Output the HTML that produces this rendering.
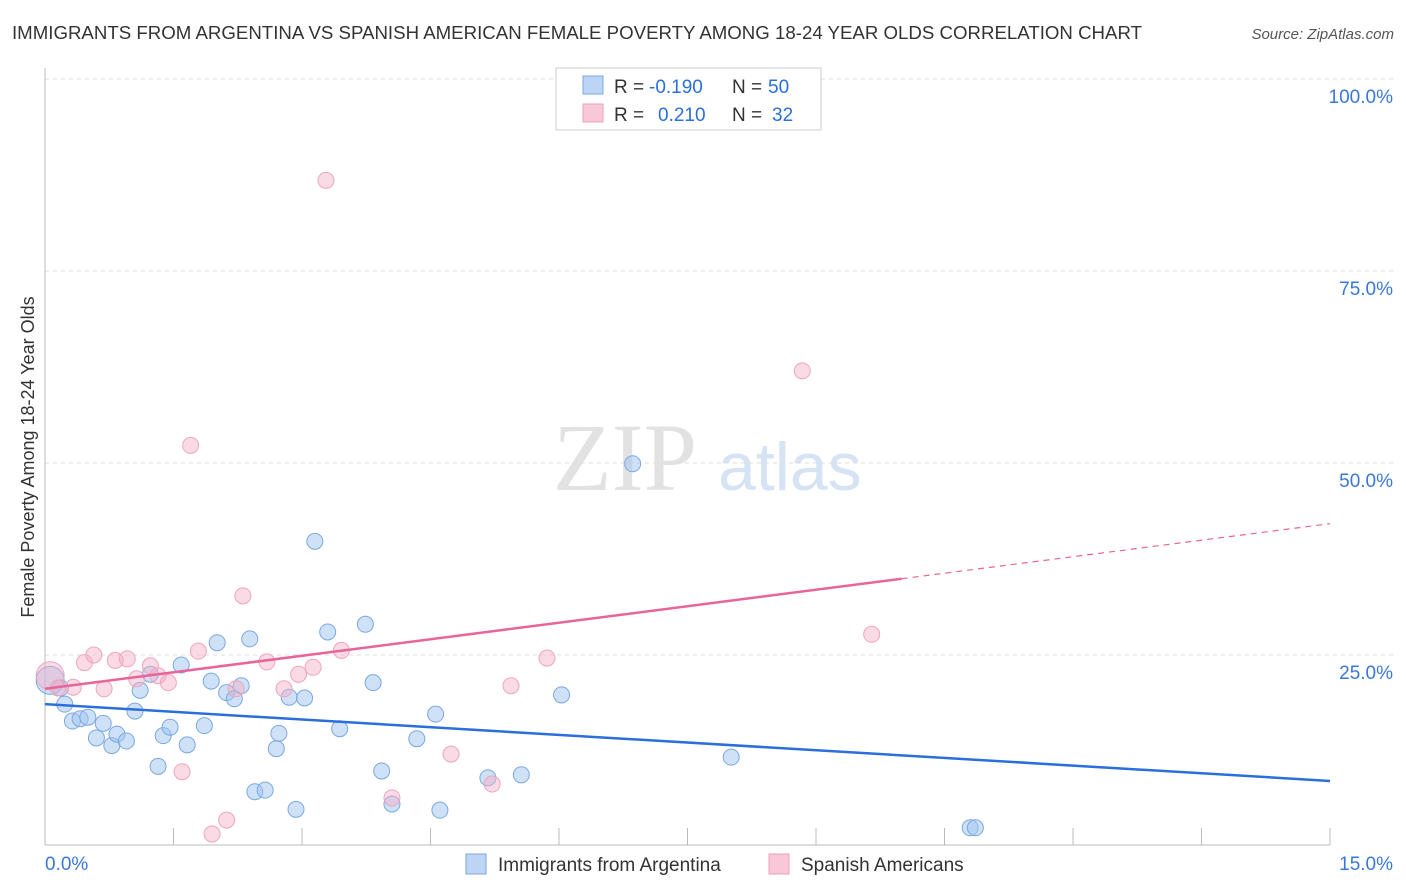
<!DOCTYPE html>
<html><head><meta charset="utf-8"><style>
body{margin:0;background:#fff;font-family:"Liberation Sans",sans-serif;}
#wrap{position:relative;width:1406px;height:892px;overflow:hidden;}
</style></head><body>
<div id="wrap">
<svg id="svg" width="1406" height="892">
<text x="12" y="39" font-size="18" fill="#333" textLength="1130" lengthAdjust="spacingAndGlyphs">IMMIGRANTS FROM ARGENTINA VS SPANISH AMERICAN FEMALE POVERTY AMONG 18-24 YEAR OLDS CORRELATION CHART</text>
<text x="1394" y="39" font-size="15" fill="#555" font-style="italic" text-anchor="end">Source: ZipAtlas.com</text>
<text x="0" y="0" transform="translate(34,457) rotate(-90)" font-size="18" fill="#333" text-anchor="middle">Female Poverty Among 18-24 Year Olds</text>
<text x="553" y="490" font-size="96" fill="#e2e2e2" font-family="Liberation Serif,serif">ZIP</text>
<text x="718" y="490" font-size="68" fill="#d6e3f5">atlas</text>
<g id="grid"></g><g id="marks"></g>
<g>
<rect x="556" y="68" width="265" height="62" fill="#fff" stroke="#ccc"/>
<rect x="583" y="76" width="20" height="18" fill="#bcd5f5" stroke="#7aa8e0"/>
<rect x="583" y="104" width="20" height="18" fill="#f8c8d8" stroke="#f0a0b8"/>
<text x="614" y="93" font-size="19" fill="#333">R =</text>
<text x="649" y="93" font-size="19" fill="#2a6fdb">-0.190</text>
<text x="732" y="93" font-size="19" fill="#333">N =</text>
<text x="768" y="93" font-size="19" fill="#2a6fdb">50</text>
<text x="614" y="121" font-size="19" fill="#333">R =</text>
<text x="658" y="121" font-size="19" fill="#2a6fdb">0.210</text>
<text x="732" y="121" font-size="19" fill="#333">N =</text>
<text x="772" y="121" font-size="19" fill="#2a6fdb">32</text>
</g>
<g>
<rect x="466" y="854" width="20" height="20" fill="#bcd5f5" stroke="#7aa8e0"/>
<text x="498" y="871" font-size="19" fill="#333">Immigrants from Argentina</text>
<rect x="769" y="854" width="20" height="20" fill="#f8c8d8" stroke="#f0a0b8"/>
<text x="801" y="871" font-size="19" fill="#333">Spanish Americans</text>
</g>
</svg></div>
<script>
const blueX=[0.06,0.18,0.23,0.32,0.41,0.50,0.60,0.68,0.78,0.84,0.95,1.05,1.11,1.23,1.32,1.38,1.46,1.59,1.66,1.86,1.94,2.01,2.12,2.21,2.29,2.39,2.45,2.57,2.70,2.73,2.85,2.93,3.03,3.15,3.30,3.44,3.74,3.83,3.93,4.05,4.34,4.56,4.61,5.17,5.56,6.03,6.86,8.01,10.80,10.86];
const blueY=[21.7,20.7,18.6,16.4,16.7,16.9,14.2,16.1,13.2,14.7,13.8,17.7,20.4,22.5,10.5,14.5,15.6,23.7,13.3,15.8,21.6,26.6,20.1,19.3,21.0,27.1,7.2,7.4,12.8,14.8,19.5,4.9,19.4,39.8,28.0,15.4,29.0,21.4,9.9,5.6,14.1,17.3,4.8,9.0,9.4,19.8,49.9,11.7,2.5,2.5];
const pinkX=[0.06,0.15,0.33,0.46,0.57,0.69,0.82,0.96,1.07,1.23,1.32,1.44,1.60,1.70,1.79,1.95,2.12,2.23,2.31,2.59,2.79,2.96,3.13,3.28,3.46,4.05,4.74,5.22,5.44,5.86,8.84,9.65];
const pinkY=[22.3,20.7,20.8,24.0,25.0,20.6,24.3,24.5,21.9,23.6,22.3,21.4,9.8,52.3,25.5,1.7,3.5,20.6,32.7,24.1,20.6,22.5,23.4,86.8,25.6,6.4,12.1,8.2,21.0,24.6,62.0,27.7];
const blueTrend=[18.6,8.6];
const pinkTrend=[20.6,42.1];
const yTicks=[25,50,75,100];
const X=v=>45+v/15*1285, Y=v=>847-v/25*192;
const NS="http://www.w3.org/2000/svg";
function mk(t,a,p){const e=document.createElementNS(NS,t);for(const k in a)e.setAttribute(k,a[k]);p.appendChild(e);return e;}
const g=document.getElementById('grid'),m=document.getElementById('marks');
yTicks.forEach(t=>{
const l=mk('line',{x1:45,x2:1393,y1:Y(t),y2:Y(t),stroke:'#ddd','stroke-dasharray':'4,4'},g);


const tx=mk('text',{x:1393,y:Y(t)+24,'font-size':19,fill:'#3a78d8','text-anchor':'end'},g);
tx.textContent=t.toFixed(1)+'%';


});
mk('line',{x1:45,x2:45,y1:68,y2:845,stroke:'#bbb'},g);
mk('line',{x1:45,x2:1330,y1:845,y2:845,stroke:'#bbb'},g);
for(let i=1;i<=10;i++){mk('line',{x1:X(i*1.5),x2:X(i*1.5),y1:828,y2:845,stroke:'#bbb'},g);}
const x0=mk('text',{x:45,y:870,'font-size':19,fill:'#3a78d8'},g);x0.textContent='0.0%';


const x1=mk('text',{x:1393,y:870,'font-size':19,fill:'#3a78d8','text-anchor':'end'},g);x1.textContent='15.0%';


function pts(xs,ys,fill,stroke,name){xs.forEach((x,i)=>{const r=i==0?14:8;
const c=mk('circle',{cx:X(x),cy:Y(ys[i]),r:r,fill:fill,stroke:stroke,'stroke-width':1},m);

});}
pts(blueX,blueY,'rgba(160,196,240,0.5)','#7aa8e0','argentina');
pts(pinkX,pinkY,'rgba(245,175,198,0.45)','#eea5bd','spanish');
const bl=mk('line',{x1:X(0),y1:Y(blueTrend[0]),x2:X(15),y2:Y(blueTrend[1]),stroke:'#2a6fdb','stroke-width':2.5},m);


const pm=pinkTrend[0]+(pinkTrend[1]-pinkTrend[0])*10/15;
const pl=mk('line',{x1:X(0),y1:Y(pinkTrend[0]),x2:X(10),y2:Y(pm),stroke:'#e8649a','stroke-width':2.5},m);


const pd=mk('line',{x1:X(10),y1:Y(pm),x2:X(15),y2:Y(pinkTrend[1]),stroke:'#e8649a','stroke-width':1.2,'stroke-dasharray':'6,5'},m);


</script>
</body></html>
